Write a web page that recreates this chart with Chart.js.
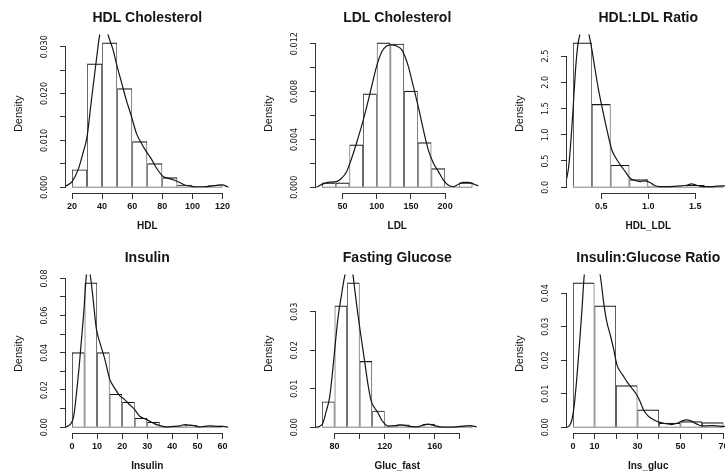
<!DOCTYPE html>
<html>
<head>
<meta charset="utf-8">
<script src="https://cdn.jsdelivr.net/npm/chart.js@4.4.1/dist/chart.umd.min.js"></script>
<style>
html, body { margin: 0; padding: 0; background: #fff; overflow: hidden; }
#wrap { position: relative; width: 725px; height: 471px; overflow: hidden; }
#wrap canvas { position: absolute; }
</style>
</head>
<body>
<div id="wrap">
  <canvas id="hdl" width="250" height="240" style="left:0px;top:0px"></canvas>
  <canvas id="ldl" width="250" height="240" style="left:250px;top:0px"></canvas>
  <canvas id="ratio" width="250" height="240" style="left:501px;top:0px"></canvas>
  <canvas id="ins" width="250" height="240" style="left:0px;top:240px"></canvas>
  <canvas id="gluc" width="250" height="240" style="left:250px;top:240px"></canvas>
  <canvas id="insgluc" width="250" height="240" style="left:501px;top:240px"></canvas>
</div>
<script>
// HDL Cholesterol
var hdlBreaks = [20, 30, 40, 50, 60, 70, 80, 90, 100, 110, 120];
var hdlDensity = [0.0038, 0.0264, 0.0309, 0.0211, 0.0098, 0.0051, 0.0021, 0.0005, 0, 0.0004];
var hdlCurveX = [15, 16.2, 20, 24, 27.3, 30, 32.9, 36.2, 38.4, 41.5, 44, 47.3, 49.5, 52.8, 56.1, 59.5, 62.8, 66.1, 69.4, 72.8, 76.1, 80.5, 83.9, 87.2, 91.6, 96, 100.5, 105, 109.4, 116, 120, 123.3, 126];
var hdlCurveY = [0, 0.0003, 0.0012, 0.0037, 0.0073, 0.0108, 0.0186, 0.0272, 0.0325, 0.0362, 0.0325, 0.0293, 0.0264, 0.0225, 0.0186, 0.0151, 0.0115, 0.0094, 0.0076, 0.006, 0.0041, 0.0023, 0.0019, 0.0016, 0.001, 0.00036, 0.00014, 0.0001, 0.00014, 0.0004, 0.0005, 0.0001, 0];
var hdlXTicks = [20, 40, 60, 80, 100, 120];
var hdlXLabels = ['20', '40', '60', '80', '100', '120'];
var hdlYTicks = [0, 0.005, 0.01, 0.015, 0.02, 0.025, 0.03];
var hdlYLabels = ['0.000', '', '0.010', '', '0.020', '', '0.030'];

// LDL Cholesterol
var ldlBreaks = [20, 40, 60, 80, 100, 120, 140, 160, 180, 200, 220, 240];
var ldlDensity = [0.00039, 0.00039, 0.00356, 0.00783, 0.0121, 0.012, 0.00806, 0.00375, 0.00158, 0, 0.00039];
var ldlCurveX = [11.9, 21.7, 31.4, 41.2, 48.5, 55.9, 63.2, 70.5, 77.8, 85.2, 92.5, 99.8, 107.2, 114.5, 121.8, 129.1, 136.5, 141.4, 146.2, 153.6, 160.9, 168.2, 175.5, 182.9, 190.2, 197.5, 204.9, 212.2, 219.5, 226.8, 234.2, 242.5, 248.8];
var ldlCurveY = [0, 0.00028, 0.00042, 0.00047, 0.00075, 0.0013, 0.0024, 0.0037, 0.0051, 0.0067, 0.0084, 0.0101, 0.0113, 0.0118, 0.0119, 0.0118, 0.0115, 0.0109, 0.0101, 0.0084, 0.0067, 0.0048, 0.0031, 0.002, 0.0013, 0.0006, 0.00017, 0.00006, 0.00025, 0.0004, 0.0004, 0.00025, 0.0001];
var ldlXTicks = [50, 100, 150, 200];
var ldlXLabels = ['50', '100', '150', '200'];
var ldlYTicks = [0, 0.002, 0.004, 0.006, 0.008, 0.01, 0.012];
var ldlYLabels = ['0.000', '', '0.004', '', '0.008', '', '0.012'];

// HDL:LDL Ratio
var ratioBreaks = [0.2, 0.4, 0.6, 0.8, 1.0, 1.2, 1.4, 1.6, 1.8];
var ratioDensity = [2.76, 1.587, 0.425, 0.152, 0.025, 0, 0.04, 0.02];
var ratioCurveX = [0.129, 0.154, 0.178, 0.2, 0.224, 0.249, 0.277, 0.33, 0.366, 0.401, 0.436, 0.472, 0.507, 0.56, 0.613, 0.648, 0.701, 0.754, 0.807, 0.86, 0.913, 0.966, 1.019, 1.062, 1.125, 1.23, 1.337, 1.408, 1.461, 1.514, 1.585, 1.69, 1.78, 1.87];
var ratioCurveY = [0.14, 0.39, 0.9, 1.47, 2.17, 2.68, 2.95, 3.3, 2.95, 2.62, 2.23, 1.85, 1.54, 1.1, 0.71, 0.58, 0.43, 0.3, 0.17, 0.127, 0.108, 0.12, 0.089, 0.038, 0.013, 0.013, 0.025, 0.038, 0.063, 0.038, 0.013, 0.013, 0.025, 0.02];
var ratioXTicks = [0.5, 1.0, 1.5];
var ratioXLabels = ['0.5', '1.0', '1.5'];
var ratioYTicks = [0, 0.5, 1.0, 1.5, 2.0, 2.5];
var ratioYLabels = ['0.0', '0.5', '1.0', '1.5', '2.0', '2.5'];

// Insulin
var insBreaks = [0, 5, 10, 15, 20, 25, 30, 35, 40, 45, 50, 55, 60];
var insDensity = [0.0403, 0.0778, 0.0403, 0.0179, 0.0136, 0.005, 0.0029, 0, 0.0005, 0.0012, 0.0005, 0.0008];
var insCurveX = [-2.9, -1.6, -0.27, 0.67, 1.73, 2.8, 3.7, 4.7, 5.7, 6.4, 7.3, 8.4, 9.7, 11, 13, 15, 17, 19, 21, 23, 25, 27, 29, 31, 33, 35, 37.6, 40.3, 43, 45, 47, 49, 51, 53, 55, 57.6, 60.3, 62.3];
var insCurveY = [0, 0.0007, 0.0023, 0.0059, 0.0175, 0.0318, 0.046, 0.062, 0.0814, 0.086, 0.0814, 0.069, 0.053, 0.046, 0.037, 0.026, 0.021, 0.017, 0.0148, 0.0121, 0.0095, 0.0059, 0.0046, 0.0032, 0.0018, 0.0009, 0.0002, 0.0004, 0.0007, 0.0014, 0.0011, 0.0007, 0.0002, 0.0005, 0.0007, 0.0005, 0.0004, 0];
var insXTicks = [0, 10, 20, 30, 40, 50, 60];
var insXLabels = ['0', '10', '20', '30', '40', '50', '60'];
var insYTicks = [0, 0.01, 0.02, 0.03, 0.04, 0.05, 0.06, 0.07, 0.08];
var insYLabels = ['0.00', '', '0.02', '', '0.04', '', '0.06', '', '0.08'];

// Fasting Glucose
var glucBreaks = [70, 80, 90, 100, 110, 120, 130, 140, 150, 160, 170, 180, 190];
var glucDensity = [0.0067, 0.0316, 0.0376, 0.0172, 0.0043, 0.0004, 0.0007, 0, 0.0009, 0, 0, 0.0004];
var glucCurveX = [65.3, 68, 70.7, 73.3, 76, 77.9, 80, 82.7, 85.3, 88, 91.3, 94.7, 96, 98.7, 101.3, 104, 106.7, 109.3, 112, 114.7, 117.3, 120, 122.7, 128, 132, 136, 140, 145.3, 150.7, 154.7, 158.7, 164, 170.7, 177.3, 182.7, 188, 193.3];
var glucCurveY = [0, 0.0002, 0.0011, 0.0041, 0.0076, 0.0128, 0.0197, 0.0283, 0.0339, 0.0391, 0.0425, 0.0395, 0.036, 0.0291, 0.0231, 0.0171, 0.011, 0.0067, 0.005, 0.0037, 0.002, 0.0009, 0.0003, 0.0004, 0.0006, 0.0005, 0.0002, 0.0001, 0.0005, 0.0008, 0.0005, 0.0001, 0, 0.0001, 0.0003, 0.0004, 0.0001];
var glucXTicks = [80, 100, 120, 140, 160, 180];
var glucXLabels = ['80', '', '120', '', '160', ''];
var glucYTicks = [0, 0.01, 0.02, 0.03];
var glucYLabels = ['0.00', '0.01', '0.02', '0.03'];

// Insulin:Glucose Ratio
var igBreaks = [0, 10, 20, 30, 40, 50, 60, 70];
var igDensity = [0.0432, 0.0363, 0.0125, 0.0053, 0.0013, 0.0018, 0.0015];
var igCurveX = [-2.8, -1.5, -0.5, 0.6, 1.9, 3.1, 4.2, 5.2, 8.5, 12.7, 14.2, 15.7, 17.3, 18.8, 20.4, 21.9, 23.5, 25, 27.3, 29.6, 31.2, 32.7, 35, 37.3, 39.7, 42.7, 45.8, 48.1, 50.5, 52.8, 55.1, 57.4, 59.7, 62, 65.1, 68.2, 72.8];
var igCurveY = [0, 0.0006, 0.0023, 0.0067, 0.0157, 0.0256, 0.0355, 0.0452, 0.058, 0.0452, 0.0375, 0.0315, 0.0276, 0.0236, 0.0187, 0.0167, 0.0152, 0.0137, 0.0117, 0.0097, 0.0077, 0.0053, 0.0033, 0.0023, 0.0016, 0.0011, 0.0008, 0.0011, 0.0018, 0.0022, 0.0018, 0.001, 0.0004, 0.0004, 0.0005, 0.0003, 0.0001];
var igXTicks = [0, 10, 20, 30, 40, 50, 60, 70];
var igXLabels = ['0', '10', '', '30', '', '50', '', '70'];
var igYTicks = [0, 0.01, 0.02, 0.03, 0.04];
var igYLabels = ['0.00', '0.01', '0.02', '0.03', '0.04'];

var SANS = '"Liberation Sans", Arial, sans-serif';
var NARROW = '"Liberation Sans Narrow", "Arial Narrow", "DejaVu Sans Condensed", "Liberation Sans", sans-serif';
var INK = '#151515';

var measureCtx = document.createElement('canvas').getContext('2d');
function widest(labels, font) {
    measureCtx.font = font;
    var w = 0;
    labels.forEach(function (t) { w = Math.max(w, measureCtx.measureText(t).width); });
    return w;
}

// R draws the axis line only from the first to the last tick
var rAxes = {
    id: 'rAxes',
    afterDraw: function (chart) {
        var ctx = chart.ctx, xs = chart.scales.x, ys = chart.scales.y, a = chart.chartArea;
        var xb = Math.round(a.bottom) + 0.5, yl = Math.round(a.left) - 0.5;
        ctx.save();
        ctx.strokeStyle = '#333';
        ctx.lineWidth = 1;
        ctx.beginPath();
        ctx.moveTo(xs.getPixelForValue(xs.ticks[0].value), xb);
        ctx.lineTo(xs.getPixelForValue(xs.ticks[xs.ticks.length - 1].value), xb);
        ctx.moveTo(yl, ys.getPixelForValue(ys.ticks[0].value));
        ctx.lineTo(yl, ys.getPixelForValue(ys.ticks[ys.ticks.length - 1].value));
        ctx.stroke();
        ctx.restore();
    }
};

function histPanel(canvasId, title, xTitle, breaks, density, curveX, curveY, xTicks, xLabels, yTicks, yLabels)
{
    var n = density.length;
    var span = breaks[n] - breaks[0];
    var top = Math.max.apply(null, density);
    var bars = density.map(function (d, i) { return {x: (breaks[i] + breaks[i + 1]) / 2, y: d}; });
    var curve = curveX.map(function (x, i) { return {x: x, y: curveY[i]}; });
    var base = [{x: breaks[0], y: 0}, {x: breaks[n], y: 0}];
    var yPad = 15 - widest(yLabels, '9px ' + NARROW) / 2;

    return new Chart(document.getElementById(canvasId), {
        type: 'bar',
        data: {
            datasets: [
                {
                    type: 'line',
                    data: curve,
                    borderColor: INK,
                    borderWidth: 1.2,
                    pointRadius: 0,
                    cubicInterpolationMode: 'monotone',
                    clip: 0,
                    order: 0
                },
                {
                    type: 'line',
                    data: base,
                    borderColor: '#808080',
                    borderWidth: 1,
                    pointRadius: 0,
                    order: 2
                },
                {
                    type: 'bar',
                    data: bars,
                    backgroundColor: 'rgba(0,0,0,0)',
                    borderColor: '#1a1a1a',
                    borderSkipped: 'bottom',
                    borderWidth: {top: 1.2, left: 0.7, right: 0.7, bottom: 0},
                    barPercentage: 1,
                    categoryPercentage: 1,
                    inflateAmount: 0,
                    order: 1
                }
            ]
        },
        options: {
            responsive: false,
            animation: false,
            layout: {padding: {left: 0, right: 21.5, top: 0, bottom: 0}, autoPadding: false},
            plugins: {
                legend: {display: false},
                tooltip: {enabled: false},
                title: {
                    display: true,
                    text: title,
                    fullSize: false,
                    color: INK,
                    font: {family: SANS, size: 14, weight: 'bold', lineHeight: 1.2},
                    padding: {top: 9.6, bottom: 8.1}
                }
            },
            scales: {
                x: {
                    type: 'linear',
                    min: breaks[0] - 0.04 * span,
                    max: breaks[n] + 0.04 * span,
                    offset: false,
                    grid: {offset: false, drawOnChartArea: false, tickLength: 6, color: '#333'},
                    border: {display: false},
                    afterBuildTicks: function (s) { s.ticks = xTicks.map(function (v) { return {value: v}; }); },
                    afterFit: function (s) { s.height = 47; },
                    ticks: {
                        autoSkip: false, minRotation: 0, maxRotation: 0, padding: 2, color: INK,
                        font: {family: SANS, size: 9, weight: 'bold'},
                        callback: function (v, i) { return xLabels[i]; }
                    },
                    title: {
                        display: true, text: xTitle, color: INK,
                        font: {family: SANS, size: 10, weight: 'bold', lineHeight: 1.2},
                        padding: {top: 0, bottom: 8}
                    }
                },
                y: {
                    type: 'linear',
                    min: -0.04 * top,
                    max: 1.055 * top,
                    grid: {drawOnChartArea: false, tickLength: 6, color: '#333'},
                    border: {display: false},
                    afterBuildTicks: function (s) { s.ticks = yTicks.map(function (v) { return {value: v}; }); },
                    afterFit: function (s) { s.width = 66; },
                    ticks: {
                        autoSkip: false, minRotation: 90, maxRotation: 90, crossAlign: 'center',
                        padding: yPad, color: INK,
                        font: {family: NARROW, size: 9},
                        callback: function (v, i) { return yLabels[i]; }
                    },
                    title: {
                        display: true, text: 'Density', color: INK,
                        font: {family: SANS, size: 11, lineHeight: 1.2},
                        padding: {top: 12.4, bottom: 0}
                    }
                }
            }
        },
        plugins: [rAxes]
    });
}

histPanel('hdl', 'HDL Cholesterol', 'HDL', hdlBreaks, hdlDensity, hdlCurveX, hdlCurveY, hdlXTicks, hdlXLabels, hdlYTicks, hdlYLabels);
histPanel('ldl', 'LDL Cholesterol', 'LDL', ldlBreaks, ldlDensity, ldlCurveX, ldlCurveY, ldlXTicks, ldlXLabels, ldlYTicks, ldlYLabels);
histPanel('ratio', 'HDL:LDL Ratio', 'HDL_LDL', ratioBreaks, ratioDensity, ratioCurveX, ratioCurveY, ratioXTicks, ratioXLabels, ratioYTicks, ratioYLabels);
histPanel('ins', 'Insulin', 'Insulin', insBreaks, insDensity, insCurveX, insCurveY, insXTicks, insXLabels, insYTicks, insYLabels);
histPanel('gluc', 'Fasting Glucose', 'Gluc_fast', glucBreaks, glucDensity, glucCurveX, glucCurveY, glucXTicks, glucXLabels, glucYTicks, glucYLabels);
histPanel('insgluc', 'Insulin:Glucose Ratio', 'Ins_gluc', igBreaks, igDensity, igCurveX, igCurveY, igXTicks, igXLabels, igYTicks, igYLabels);
</script>
</body>
</html>
